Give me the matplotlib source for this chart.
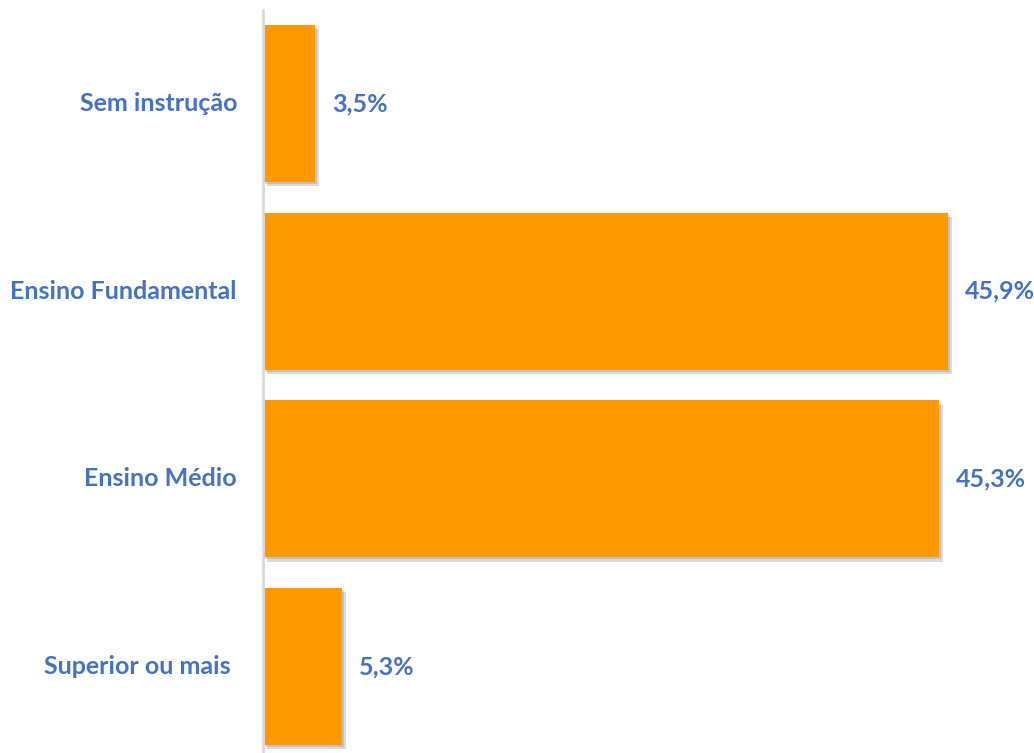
import matplotlib
matplotlib.use("Agg")
import matplotlib.pyplot as plt
from matplotlib import patheffects

categories = ["Sem instrução", "Ensino Fundamental", "Ensino Médio", "Superior ou mais "]
values = [3.5, 45.9, 45.3, 5.3]
value_labels = ["3,5%", "45,9%", "45,3%", "5,3%"]

W, H = 1034, 753
fig = plt.figure(figsize=(W / 100, H / 100), dpi=100)

# axes from the vertical axis line to the right edge
left_px, top_px = 263, 10
ax = fig.add_axes([left_px / W, 0, 1 - left_px / W, 1 - top_px / H])

px_per_unit = 685 / 45.9
ax.set_xlim(0, (W - left_px) / px_per_unit)
spacing = 187.7
ax.set_ylim((H - 103.5) / spacing, (top_px - 103.5) / spacing)

bar_color = "#FF9900"
text_color = "#4472C4"
ypos = list(range(len(categories)))
bars = ax.barh(ypos, values, height=0.836, color=bar_color, zorder=2)
for b in bars:
    b.set_path_effects([
        patheffects.SimplePatchShadow(offset=(3, -3), shadow_rgbFace="#000000", alpha=0.14),
        patheffects.SimplePatchShadow(offset=(1.5, -1.5), shadow_rgbFace="#000000", alpha=0.12),
        patheffects.Normal(),
    ])

font = dict(family=["Lato", "DejaVu Sans"], fontweight="bold", fontsize=18, color=text_color)
for y, v, lab in zip(ypos, values, value_labels):
    ax.annotate(lab, xy=(v, y), xytext=(17, 0), textcoords="offset pixels",
                ha="left", va="center", **font)
for y, cat in zip(ypos, categories):
    ax.annotate(cat, xy=(0, y), xytext=(-26, 0), textcoords="offset pixels",
                ha="right", va="center", **font)

for s in ["top", "right", "bottom"]:
    ax.spines[s].set_visible(False)
ax.spines["left"].set_color("#D9D9D9")
ax.spines["left"].set_linewidth(2)
ax.set_xticks([])
ax.set_yticks([])

fig.savefig("out.png", dpi=100)
